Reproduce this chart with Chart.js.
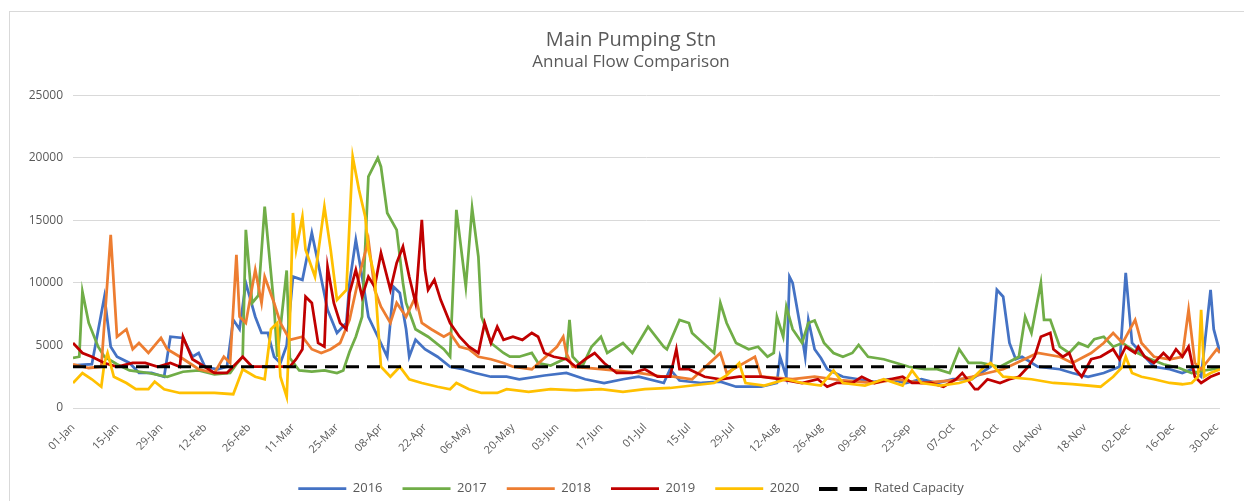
<!DOCTYPE html>
<html>
<head>
<meta charset="utf-8">
<title>Main Pumping Stn</title>
<script src="https://cdn.jsdelivr.net/npm/chart.js@4/dist/chart.umd.min.js"></script>
<style>
  html, body { margin: 0; padding: 0; background: #fff; overflow: hidden; }
  #wrap { position: relative; width: 1244px; height: 501px; }
  #frame { position: absolute; left: 9px; top: 11px; width: 1240px; height: 500px; border: 1px solid #d9d9d9; box-sizing: border-box; pointer-events: none; }
  canvas { position: absolute; left: 0; top: 0; }
</style>
</head>
<body>
<div id="wrap">
  <canvas id="flowChart" width="1244" height="501"></canvas>
  <div id="frame"></div>
</div>
<script>
// Main Pumping Stn - annual flow comparison
// x = day of year (0 = 01-Jan), y = flow

const tickDays = [0, 14, 28, 42, 56, 70, 84, 98, 112, 126, 140, 154, 168, 182, 196, 210, 224, 238, 252, 266, 280, 294, 308, 322, 336, 350, 364];
const tickLabels = ['01-Jan', '15-Jan', '29-Jan', '12-Feb', '26-Feb', '11-Mar', '25-Mar', '08-Apr', '22-Apr', '06-May', '20-May', '03-Jun', '17-Jun', '01-Jul', '15-Jul', '29-Jul', '12-Aug', '26-Aug', '09-Sep', '23-Sep', '07-Oct', '21-Oct', '04-Nov', '18-Nov', '02-Dec', '16-Dec', '30-Dec'];

const yearLabels = ['2016', '2017', '2018', '2019', '2020'];

const flow2016 = [[0,3400],[6,3500],[10,8900],[12,4900],[14,4100],[18,3600],[21,2800],[25,2800],[29,2500],[31,5700],[35,5600],[38,4100],[40,4400],[42,3300],[46,3100],[49,3300],[51,7050],[53,6300],[55,10000],[58,7300],[60,6000],[62,6000],[64,4100],[66,3600],[68,5000],[70,10500],[73,10250],[76,14000],[78,11600],[81,7850],[84,6000],[87,6800],[88,10000],[90,13450],[92,10500],[94,7300],[97,5700],[100,4100],[102,9700],[104,9200],[106,6300],[107,4100],[109,5450],[112,4700],[116,4100],[120,3300],[124,3100],[128,2800],[133,2500],[138,2500],[142,2300],[150,2600],[157,2800],[163,2300],[169,2000],[175,2300],[180,2500],[188,2000],[190,3100],[193,2200],[200,2000],[206,2100],[211,1700],[219,1700],[224,2000],[225,4100],[227,2500],[228,10500],[229,10000],[232,5700],[233,4100],[234,7050],[236,4700],[238,4000],[240,3100],[245,2500],[250,2300],[255,2100],[260,2300],[265,2000],[270,2300],[275,2000],[280,2300],[286,2300],[292,3300],[294,9450],[296,8900],[298,5200],[300,3900],[302,4100],[307,3300],[314,3100],[318,2800],[323,2500],[328,2800],[333,3300],[335,10800],[337,5200],[340,4400],[344,3300],[349,3100],[353,2800],[356,3100],[359,2500],[362,9450],[363,6300],[365,4400]];

const flow2017 = [[0,4000],[2,4100],[3,9300],[5,6800],[8,4900],[10,4100],[14,3500],[18,3000],[24,2800],[30,2500],[35,2900],[40,3000],[45,2700],[50,2800],[52,3500],[54,4100],[55,14250],[57,8400],[59,9000],[61,16100],[64,8100],[65,4100],[68,11000],[69,4000],[72,3000],[76,2900],[80,3000],[84,2800],[86,3000],[88,4500],[90,5700],[92,7300],[94,18500],[97,20000],[98,19300],[100,15600],[103,14250],[105,10000],[106,8400],[109,6300],[113,5700],[118,4700],[120,4100],[122,15850],[125,9700],[127,16000],[129,12100],[130,7300],[133,5200],[137,4400],[139,4100],[142,4100],[146,4400],[148,3600],[152,3400],[157,4000],[158,7050],[159,4100],[162,3300],[165,4900],[168,5700],[170,4400],[175,5200],[178,4400],[183,6500],[188,4900],[189,4700],[193,7050],[196,6800],[197,6000],[204,4400],[206,8400],[208,6800],[211,5200],[215,4700],[218,4900],[221,4100],[223,4400],[224,7300],[226,5700],[227,8100],[229,6300],[232,5200],[234,6800],[236,7000],[239,5200],[242,4400],[245,4100],[248,4400],[250,5050],[253,4100],[258,3900],[262,3600],[266,3300],[271,3100],[275,3100],[279,2800],[282,4700],[285,3600],[289,3600],[295,3300],[301,4100],[303,7300],[305,6000],[308,10000],[309,7050],[311,7050],[314,4900],[317,4400],[320,5200],[323,4900],[325,5500],[328,5700],[331,4900],[334,5200],[338,4500],[342,4000],[347,3500],[352,3200],[356,2800],[360,3000],[365,3200]];

const flow2018 = [[0,3500],[5,3200],[9,3300],[12,13850],[14,5700],[17,6300],[19,4700],[21,5200],[24,4400],[28,5600],[30,4700],[34,4100],[37,3600],[40,3100],[45,2800],[48,4100],[50,3600],[52,12250],[53,7300],[55,6800],[58,11050],[60,8400],[61,10500],[64,8400],[66,6800],[69,5450],[73,5700],[76,4700],[79,4400],[82,4700],[85,5200],[88,7050],[91,10500],[94,13450],[96,9450],[98,8100],[101,6800],[103,8400],[106,7300],[109,8900],[111,6800],[114,6300],[118,5700],[120,6000],[123,4900],[126,4700],[129,4100],[133,3900],[137,3600],[140,3300],[146,3100],[154,4900],[156,5700],[157,4400],[159,3300],[168,3100],[180,2800],[188,2500],[191,2500],[197,2300],[206,4400],[208,2800],[217,4100],[219,2500],[229,2300],[236,2500],[245,2200],[255,2000],[262,2300],[270,2000],[280,2200],[286,2500],[296,3100],[307,4400],[314,4100],[318,3600],[324,4400],[328,5200],[331,6000],[334,5200],[338,7050],[340,5200],[344,4100],[349,3900],[353,4100],[355,7850],[357,3600],[359,3100],[364,4700],[365,4400]];

const flow2019 = [[0,5200],[3,4400],[6,4100],[10,3600],[14,3300],[19,3600],[23,3600],[27,3300],[31,3600],[34,3300],[35,5700],[38,3900],[40,3600],[45,2800],[49,2800],[54,4100],[57,3300],[62,3300],[66,3300],[69,3300],[71,3900],[73,4700],[74,8900],[76,8400],[78,5200],[80,4900],[81,11300],[83,8400],[85,6800],[87,6300],[88,9200],[90,11050],[92,8900],[94,10500],[96,9700],[98,12400],[101,9450],[103,11600],[105,12900],[107,10500],[109,8400],[111,15050],[112,11050],[113,9450],[115,10250],[117,8650],[120,6800],[123,5700],[126,4900],[129,4400],[131,6800],[133,5200],[135,6500],[137,5450],[140,5700],[143,5450],[146,6000],[148,5700],[150,4400],[153,4100],[157,3900],[160,3300],[163,3900],[166,4400],[169,3600],[173,2800],[178,2800],[182,3100],[186,2500],[190,2500],[192,4700],[193,3100],[196,3100],[201,2500],[206,2300],[212,2500],[219,2500],[225,2300],[232,2000],[237,2300],[240,1700],[243,2000],[248,2000],[251,2500],[255,2000],[260,2300],[264,2500],[267,2000],[273,2000],[277,1700],[281,2300],[283,2800],[287,1500],[288,1500],[291,2300],[295,2000],[298,2300],[301,2500],[304,3300],[306,4100],[308,5700],[311,6000],[312,4700],[315,4100],[317,4400],[319,3100],[321,2500],[324,3900],[327,4100],[331,4700],[333,3900],[335,4900],[338,4400],[339,4900],[341,4100],[344,3600],[347,4400],[349,3900],[351,4700],[353,4100],[355,4900],[357,2500],[359,2000],[362,2500],[365,2800]];

const flow2020 = [[0,2000],[3,2800],[6,2300],[9,1700],[10,3600],[11,4400],[13,2500],[17,2000],[20,1500],[24,1500],[26,2100],[29,1500],[34,1200],[39,1200],[45,1200],[51,1100],[54,3100],[58,2500],[61,2300],[63,6300],[65,6800],[66,2500],[68,900],[69,6800],[70,15600],[71,12650],[73,15300],[74,12650],[77,10500],[80,16100],[82,12650],[84,8650],[87,9450],[89,20100],[91,17450],[93,15300],[94,12650],[96,10500],[97,6800],[98,3300],[101,2500],[104,3300],[107,2300],[111,2000],[116,1700],[120,1500],[122,2000],[126,1500],[130,1200],[135,1200],[138,1500],[145,1300],[152,1500],[160,1400],[168,1500],[175,1300],[182,1500],[190,1600],[197,1800],[204,2000],[208,2600],[212,3600],[214,2000],[220,1800],[227,2300],[232,2000],[238,1800],[242,3000],[245,2000],[252,1800],[258,2300],[264,1800],[267,3000],[270,2000],[276,1800],[282,2000],[286,2300],[290,3300],[292,3600],[296,2500],[305,2300],[312,2000],[318,1900],[327,1700],[331,2500],[334,3300],[335,4100],[337,2800],[340,2500],[344,2300],[349,2000],[353,1900],[356,2000],[358,2500],[359,7850],[360,2500],[362,2800],[365,3100]];

const ratedCapacity = [[0,3300],[365,3300]];

// Excel-ish palette
const yearColors = ['#4472C4', '#70AD47', '#ED7D31', '#C00000', '#FFC000'];
const textColor = '#595959';
const gridColor = '#d9d9d9';
const fontFamily = "'Open Sans', sans-serif";

// Legend marker for the dashed line (Chart.js won't dash a 'line' point style)
function dashedMarker() {
  const c = document.createElement('canvas');
  c.width = 48;
  c.height = 4;
  const g = c.getContext('2d');
  g.fillStyle = '#000';
  g.fillRect(0, 0, 18, 4);
  g.fillRect(30, 0, 18, 4);
  return c;
}

const yearFlows = [flow2016, flow2017, flow2018, flow2019, flow2020];

const datasets = yearLabels.map((label, i) => ({
  label: label,
  data: yearFlows[i],
  borderColor: yearColors[i],
  backgroundColor: yearColors[i],
  borderWidth: 2.75,
  pointRadius: 0,
  pointStyle: 'line',
  tension: 0,
  order: 5 - i   // later years drawn on top
}));

datasets.push({
  label: 'Rated Capacity',
  data: ratedCapacity,
  borderColor: '#000',
  backgroundColor: '#000',
  borderWidth: 3,
  borderDash: [13, 8],
  pointRadius: 0,
  pointStyle: dashedMarker(),
  order: 0
});

new Chart(document.getElementById('flowChart').getContext('2d'), {
  type: 'line',
  data: { datasets: datasets },
  options: {
    responsive: false,
    animation: false,
    layout: { padding: { top: 28, left: 20, right: 2, bottom: -4 } },
    plugins: {
      title: {
        display: true,
        text: 'Main Pumping Stn',
        color: textColor,
        font: { family: fontFamily, size: 20, weight: 'normal' },
        padding: { top: 0, bottom: 0 }
      },
      subtitle: {
        display: true,
        text: 'Annual Flow Comparison',
        color: textColor,
        font: { family: fontFamily, size: 17, weight: 'normal' },
        padding: { top: 0, bottom: 23 }
      },
      legend: {
        position: 'bottom',
        labels: {
          usePointStyle: true,
          pointStyleWidth: 48,
          padding: 20,
          color: textColor,
          font: { family: fontFamily, size: 13 },
          sort: (a, b) => a.datasetIndex - b.datasetIndex
        }
      },
      tooltip: { enabled: false }
    },
    scales: {
      x: {
        type: 'linear',
        min: 0,
        max: 365,
        afterBuildTicks: (axis) => { axis.ticks = tickDays.map(v => ({ value: v })); },
        afterFit: (axis) => { axis.height = 54; },
        grid: { display: false },
        border: { display: false },
        ticks: {
          autoSkip: false,
          minRotation: 45,
          maxRotation: 45,
          padding: 5,
          color: textColor,
          font: { family: fontFamily, size: 11 },
          callback: (value, index) => tickLabels[index]
        }
      },
      y: {
        min: 0,
        max: 25000,
        afterFit: (axis) => { axis.width = 53; },
        grid: { color: gridColor, drawTicks: false },
        border: { display: false },
        ticks: {
          stepSize: 5000,
          padding: 10,
          color: textColor,
          font: { family: fontFamily, size: 12 },
          callback: (value) => String(value)
        }
      },
      // empty spacer on the right so the titles centre like the original
      yRight: {
        position: 'right',
        afterFit: (axis) => { axis.width = 22; },
        grid: { display: false },
        border: { display: false },
        ticks: { display: false }
      }
    }
  }
});
</script>
</body>
</html>
